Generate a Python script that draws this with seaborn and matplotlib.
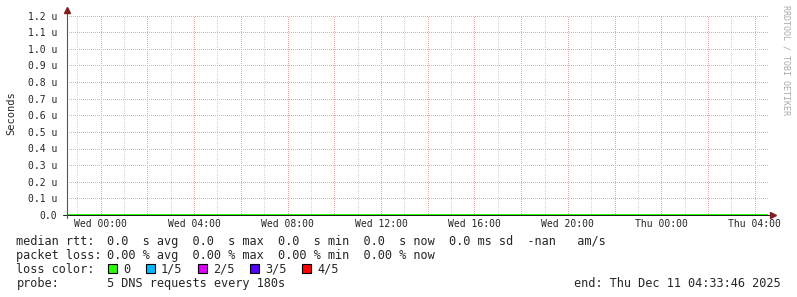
import matplotlib
matplotlib.use("Agg")
import matplotlib.pyplot as plt
import matplotlib.dates as mdates
from matplotlib.patches import Rectangle
import pandas as pd
import seaborn as sns

# ---------------- data ----------------
start_time = "2025-12-09 22:33:46"
end_time = "2025-12-11 04:33:46"
rtt_times = ["2025-12-09 22:33:46", "2025-12-11 04:30:00"]
rtt_values = [0.0, 0.0]  # median rtt (micro-seconds scale), flat at zero

x_tick_times = ["2025-12-10 00:00", "2025-12-10 04:00", "2025-12-10 08:00",
                "2025-12-10 12:00", "2025-12-10 16:00", "2025-12-10 20:00",
                "2025-12-11 00:00", "2025-12-11 04:00"]
x_tick_labels = ["Wed 00:00", "Wed 04:00", "Wed 08:00", "Wed 12:00",
                 "Wed 16:00", "Wed 20:00", "Thu 00:00", "Thu 04:00"]
y_ticks = [0.0, 0.1, 0.2, 0.3, 0.4, 0.5, 0.6, 0.7, 0.8, 0.9, 1.0, 1.1, 1.2]
y_tick_labels = ["0.0", "0.1 u", "0.2 u", "0.3 u", "0.4 u", "0.5 u", "0.6 u",
                 "0.7 u", "0.8 u", "0.9 u", "1.0 u", "1.1 u", "1.2 u"]

legend_row_labels = ["median rtt:", "packet loss:", "loss color:", "probe:"]
rtt_stats = "0.0  s avg  0.0  s max  0.0  s min  0.0  s now  0.0 ms sd  -nan   am/s"
loss_stats = "0.00 % avg  0.00 % max  0.00 % min  0.00 % now"
probe_text = "5 DNS requests every 180s"
end_text = "end: Thu Dec 11 04:33:46 2025"
loss_labels = ["0", "1/5", "2/5", "3/5", "4/5"]
loss_colors = ["#26ff00", "#00b8ff", "#dd00ff", "#5500ff", "#ff0000"]

# ---------------- style ----------------
sns.set_style("white")
plt.rcParams["font.family"] = ["DejaVu Sans Mono"]

W, H = 797, 297
fig = plt.figure(figsize=(W / 100, H / 100), dpi=100)
fig.patch.set_facecolor("white")

def fx(px):
    return px / W

def fy(py):
    return 1 - py / H

ax = fig.add_axes([fx(67), fy(215), fx(768) - fx(67), fy(15.5) - fy(215)])
ax.set_facecolor("white")

df = pd.DataFrame({"time": pd.to_datetime(rtt_times), "rtt": rtt_values})
sns.lineplot(data=df, x="time", y="rtt", ax=ax, color=loss_colors[0],
             linewidth=2.2, zorder=3)

t0 = pd.Timestamp(start_time)
t1 = pd.Timestamp(end_time)
ax.set_xlim(mdates.date2num(t0), mdates.date2num(t1))
ax.set_ylim(0, 1.2)

# grid (dotted)
grid_col = "#d2d2d2"
mgrid_col = "#eba8a8"
hours = pd.date_range(t0.ceil("h"), t1.floor("h"), freq="h")
for h in hours:
    col = mgrid_col if h.hour % 2 == 0 else grid_col
    ax.axvline(mdates.date2num(h), color=col, lw=0.72, ls=(0, (1, 2)),
               zorder=1, antialiased=False)
for yv in y_ticks[1:]:
    ax.axhline(yv, color=mgrid_col, lw=0.72, ls=(0, (1, 2)), zorder=1,
               antialiased=False)

# ticks
ax.set_xticks(mdates.date2num(pd.to_datetime(x_tick_times)))
ax.set_xticklabels(x_tick_labels, fontsize=7)
ax.set_xticks(mdates.date2num(hours), minor=True)
ax.set_yticks(y_ticks)
ax.set_yticklabels(y_tick_labels, fontsize=7)
ax.tick_params(axis="x", which="major", length=2.2, width=0.72, color="#1f1f1f",
               pad=1.0, direction="out")
ax.tick_params(axis="x", which="minor", length=1.5, width=0.72, color="#1f1f1f",
               direction="out")
ax.tick_params(axis="y", which="major", length=2.2, width=0.72, color="#1f1f1f",
               pad=5)
ax.set_ylabel("")
ax.set_xlabel("")
for s in ax.spines.values():
    s.set_visible(False)

# axes lines with arrows
arrow_col = (0.5, 0.12, 0.12)
ax.plot([-0.006, 1.004], [0, 0], transform=ax.transAxes, color="#1f1f1f",
        lw=0.72, clip_on=False, zorder=4)
ax.plot([0, 0], [-0.015, 1.025], transform=ax.transAxes, color="#555555",
        lw=0.8, clip_on=False, zorder=4)
ax.plot([1.007], [0], marker=">", transform=ax.transAxes, color=arrow_col,
        markersize=4, clip_on=False, zorder=5, mec=arrow_col)
ax.plot([0], [1.03], marker="^", transform=ax.transAxes, color=arrow_col,
        markersize=4, clip_on=False, zorder=5, mec=arrow_col)

# titles
fig.text(fx(11), fy(113), "Seconds", rotation=90, fontsize=7.5,
         ha="center", va="center")
fig.text(fx(786), fy(5), "RRDTOOL / TOBI OETIKER", rotation=270, fontsize=6,
         ha="center", va="top", color="#aaaaaa")

# legend rows
fs = 8.55
baselines = [245, 259, 273, 287]
for lab, b in zip(legend_row_labels, baselines):
    fig.text(fx(16.5), fy(b), lab, fontsize=fs, ha="left", va="baseline")
fig.text(fx(106.7), fy(baselines[0]), rtt_stats, fontsize=fs, ha="left", va="baseline")
fig.text(fx(106.7), fy(baselines[1]), loss_stats, fontsize=fs, ha="left", va="baseline")
fig.text(fx(106.7), fy(baselines[3]), probe_text, fontsize=fs, ha="left", va="baseline")
fig.text(fx(781), fy(baselines[3]), end_text, fontsize=fs, ha="right", va="baseline")

x = 108.0
cw = 7.17
for lab, col in zip(loss_labels, loss_colors):
    fig.patches.append(Rectangle((fx(x), fy(273)), fx(9), 9 / H,
                                 transform=fig.transFigure, facecolor=col,
                                 edgecolor="black", lw=0.8))
    fig.text(fx(x + 15), fy(baselines[2]), lab, fontsize=fs, ha="left", va="baseline")
    x = x + 15 + len(lab) * cw + 15.6

fig.savefig("out.png", dpi=100, facecolor="white")
